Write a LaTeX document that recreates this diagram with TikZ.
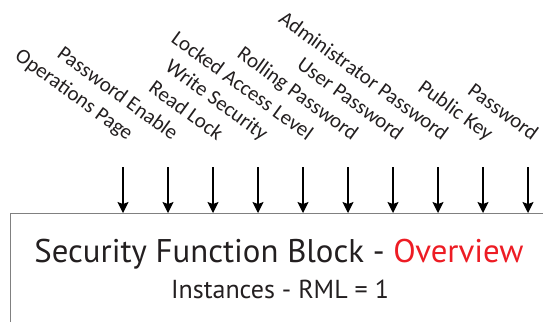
\documentclass[tikz,border=0pt]{standalone}
\usepackage{fontspec}
\setmainfont{PT Sans}
\newfontfamily\lblfont{Carlito}
\usetikzlibrary{arrows.meta}
\definecolor{ovred}{RGB}{237,28,36}
\definecolor{ink}{RGB}{35,31,32}
\begin{document}
\begin{tikzpicture}[x=1pt,y=-1pt,
  sig/.style={font=\lblfont\fontsize{21}{21}\selectfont,text=ink,rotate=-36,anchor=base east,inner sep=0pt},
  feed/.style={-{Stealth[length=11pt,width=11pt,inset=2pt]},line width=1.2pt}]
\useasboundingbox (0,0) rectangle (543,322);
% open block frame
\draw[gray,line width=1pt] (10,322) -- (10,213) -- (543,213);
\foreach \i/\t in {0/Operations Page,1/Password Enable,2/Read Lock,3/Write Security,
  4/Locked Access Level,5/Rolling Password,6/User Password,7/Administrator Password,
  8/Public Key,9/Password}{
  \coordinate (top\i) at (123+45*\i,167);
  \coordinate (in\i) at (123+45*\i,213);
  \node[sig] (lbl\i) at (127+45*\i,141) {\t};
  \draw[feed] (top\i) -- (in\i);}
\node[font=\fontsize{32.8}{33}\selectfont,text=ink] (title) at (279,254)
  {Security Function Block - \textcolor{ovred}{Overview}};
\node[font=\fontsize{26}{26}\selectfont,text=ink] (inst) at (280,289) {Instances - RML = 1};
\end{tikzpicture}
\end{document}
